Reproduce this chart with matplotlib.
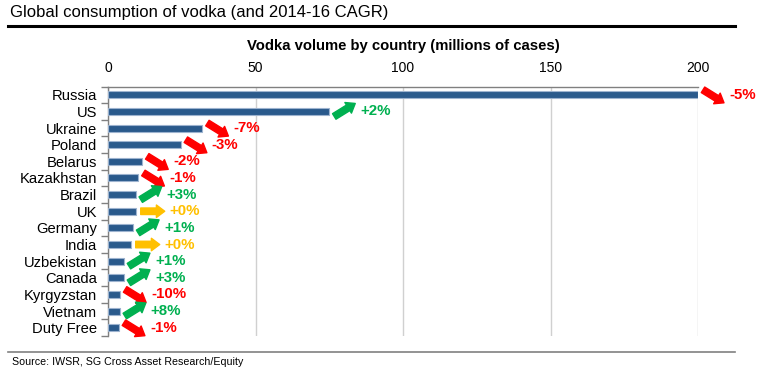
import matplotlib
matplotlib.use("Agg")
import matplotlib.pyplot as plt
from matplotlib.transforms import offset_copy
from matplotlib.lines import Line2D

plt.rcParams['font.family'] = ['Liberation Sans', 'DejaVu Sans']

countries = ["Russia", "US", "Ukraine", "Poland", "Belarus", "Kazakhstan", "Brazil",
             "UK", "Germany", "India", "Uzbekistan", "Canada", "Kyrgyzstan", "Vietnam", "Duty Free"]
volumes = [200, 75, 32, 24.7, 11.6, 10.3, 9.4, 9.4, 8.5, 7.7, 5.4, 5.4, 4.1, 4.0, 3.7]
cagr = [-5, 2, -7, -3, -2, -1, 3, 0, 1, 0, 1, 3, -10, 8, -1]
xticks = [0, 50, 100, 150, 200]

W, H = 760, 373
fig = plt.figure(figsize=(W / 100, H / 100), dpi=100)
ax = fig.add_axes([108 / W, 1 - 336 / H, (698 - 108) / W, (336 - 86.5) / H])

ypos = list(range(len(countries)))
ax.barh(ypos, volumes, height=0.42, color="#2A5A8C", edgecolor="#9DB3CF", linewidth=0.8, zorder=3)
ax.set_xlim(0, 200)
ax.set_ylim(len(countries) - 0.5, -0.5)
ax.set_yticks(ypos)
ax.set_yticklabels(countries, fontsize=10.6)
ax.set_yticks([i - 0.5 for i in range(len(countries) + 1)], minor=True)
ax.tick_params(axis='y', which='major', length=0, pad=8)
ax.tick_params(axis='y', which='minor', length=5, width=1, color="#808080", direction='out')
ax.xaxis.tick_top()
ax.set_xticks(xticks)
ax.set_xticklabels([str(t) for t in xticks], fontsize=10)
ax.tick_params(axis='x', length=0, pad=8)
ax.xaxis.set_label_position('top')
ax.set_xlabel("Vodka volume by country (millions of cases)", fontsize=10.7, fontweight='bold', labelpad=8)
ax.grid(axis='x', color="#D0D0D0", linewidth=1, zorder=0)
ax.set_axisbelow(True)
for s in ['right', 'bottom']:
    ax.spines[s].set_visible(False)
for s in ['top', 'left']:
    ax.spines[s].set_color("#808080")
    ax.spines[s].set_linewidth(1)

px = 72 / 100
colors = {'neg': "#FF0000", 'pos': "#00B050", 'zero': "#FFC000"}
for i, (v, c) in enumerate(zip(volumes, cagr)):
    if c < 0:
        col, ys, ye, L = colors['neg'], 5, -8, 21
    elif c > 0:
        col, ys, ye, L = colors['pos'], -5, 8, 21
    else:
        col, ys, ye, L = colors['zero'], 0, 0, 24
    x0 = 5
    start = offset_copy(ax.transData, fig=fig, x=x0 * px, y=ys * px, units='points')
    end = offset_copy(ax.transData, fig=fig, x=(x0 + L) * px, y=ye * px, units='points')
    ax.annotate('', xy=(v, i), xycoords=end, xytext=(v, i), textcoords=start,
                arrowprops=dict(arrowstyle='simple,head_length=0.6,head_width=0.9,tail_width=0.47',
                                color=col, shrinkA=0, shrinkB=0, mutation_scale=10),
                annotation_clip=False, zorder=4)
    ax.annotate(f"{c:+d}%", xy=(v, i), xytext=((x0 + L + 5) * px, 0), textcoords='offset points',
                va='center', ha='left', color=col, fontsize=10.8, fontweight='bold',
                annotation_clip=False, zorder=5)

fig.text(10 / W, 1 - 12 / H, "Global consumption of vodka (and 2014-16 CAGR)", fontsize=12,
         va='center', ha='left')
fig.add_artist(Line2D([8 / W, 735 / W], [1 - 26 / H] * 2, color='black', linewidth=2.2))
fig.add_artist(Line2D([8 / W, 735 / W], [1 - 352 / H] * 2, color='#808080', linewidth=1.2))
fig.text(12 / W, 1 - 362 / H, "Source: IWSR, SG Cross Asset Research/Equity", fontsize=7.7,
         va='center', ha='left')

fig.savefig("out.png", dpi=100)
